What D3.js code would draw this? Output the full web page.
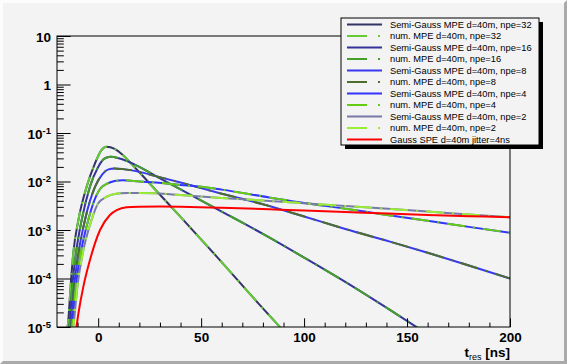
<!DOCTYPE html>
<html>
<head>
<meta charset="utf-8">
<script src="https://cdn.jsdelivr.net/npm/d3@7"></script>
<style>
  body { margin: 0; background: #f3f3f3; }
  svg { display: block; font-family: "Liberation Sans", Arial, Helvetica, sans-serif; }
</style>
</head>
<body>
<svg id="chart" width="567" height="364"></svg>
<script>
// values (t_res in ns, density per ns)
// semi-Gauss and numerical MPE coincide, so each npe uses one set of points
var t32 = [-15.5, -14.5, -13.4, -12.1, -9.6, -5.6, -1.5, 1.5, 4, 8, 12, 16, 20, 28, 40, 58, 78, 90];
var v32 = [6.3e-6, 1.38e-5, 6.8e-5, 3.3e-4, 1.62e-3, 7.8e-3, 2.4e-2, 4.4e-2, 5.2e-2, 4.7e-2, 3.5e-2, 2.34e-2, 1.55e-2, 6.6e-3, 1.86e-3, 2.7e-4, 3.0e-5, 8.3e-6];

var t16 = [-14.5, -13.7, -12.6, -10.8, -8.0, -4.0, 0, 3, 6, 10, 14, 20, 28, 40, 60, 80, 100, 120, 140, 160];
var v16 = [6.3e-6, 1.38e-5, 6.8e-5, 3.3e-4, 1.62e-3, 7.8e-3, 2.0e-2, 2.95e-2, 3.24e-2, 3.02e-2, 2.63e-2, 2.0e-2, 1.29e-2, 6.9e-3, 2.4e-3, 8.3e-4, 2.7e-4, 8.5e-5, 2.5e-5, 7.1e-6];

var t8 = [-13.7, -12.9, -11.7, -9.6, -6.4, -1.5, 2, 5, 8, 12, 20, 28, 40, 60, 80, 100, 120, 141.7, 160, 180, 200];
var v8 = [6.3e-6, 1.38e-5, 6.8e-5, 3.3e-4, 1.62e-3, 7.8e-3, 1.41e-2, 1.78e-2, 1.86e-2, 1.8e-2, 1.58e-2, 1.29e-2, 9.5e-3, 5.6e-3, 3.4e-3, 1.9e-3, 1.05e-3, 5.75e-4, 3.4e-4, 1.86e-4, 1.0e-4];

var t4 = [-13.2, -12.4, -10.9, -8.5, -4.8, -2.4, 1, 4.1, 8, 12, 20, 28, 40, 50, 60, 83, 100, 120, 137, 160, 180, 200];
var v4 = [6.3e-6, 1.38e-5, 6.8e-5, 3.3e-4, 1.62e-3, 3.55e-3, 7.1e-3, 8.9e-3, 1.02e-2, 1.06e-2, 1.0e-2, 9.5e-3, 8.5e-3, 7.8e-3, 6.8e-3, 4.7e-3, 3.6e-3, 2.75e-3, 2.14e-3, 1.55e-3, 1.16e-3, 8.8e-4];

var t2 = [-12.5, -11.7, -10.1, -7.5, -3.2, 0, 4, 8, 14, 20, 28, 40, 60, 83, 100, 120, 137, 160, 180, 200];
var v2 = [6.3e-6, 1.38e-5, 6.8e-5, 3.3e-4, 1.62e-3, 3.55e-3, 4.8e-3, 5.5e-3, 5.8e-3, 5.82e-3, 5.7e-3, 5.25e-3, 4.57e-3, 3.98e-3, 3.55e-3, 3.13e-3, 2.8e-3, 2.4e-3, 2.09e-3, 1.83e-3];

var tSpe = [-11.2, -9.6, -7.2, -4, 0.9, 5.7, 9, 13.8, 20, 30, 40, 60, 83, 100, 120, 137, 160, 180, 200];
var vSpe = [6.3e-6, 1.9e-5, 6.8e-5, 2.4e-4, 1.0e-3, 2.04e-3, 2.57e-3, 2.95e-3, 3.02e-3, 3.05e-3, 3.02e-3, 2.88e-3, 2.67e-3, 2.51e-3, 2.34e-3, 2.21e-3, 2.04e-3, 1.93e-3, 1.83e-3];

var legendLabels = [
  "Semi-Gauss MPE d=40m, npe=32", "num. MPE d=40m, npe=32",
  "Semi-Gauss MPE d=40m, npe=16", "num. MPE d=40m, npe=16",
  "Semi-Gauss MPE d=40m, npe=8", "num. MPE d=40m, npe=8",
  "Semi-Gauss MPE d=40m, npe=4", "num. MPE d=40m, npe=4",
  "Semi-Gauss MPE d=40m, npe=2", "num. MPE d=40m, npe=2",
  "Gauss SPE d=40m jitter=4ns"
];
var xMajorTicks = [0, 50, 100, 150, 200];
var xMinorTicks = [-10, 10, 20, 30, 40, 60, 70, 80, 90, 110, 120, 130, 140, 160, 170, 180, 190];
var yMajorTicks = [1e-5, 1e-4, 1e-3, 1e-2, 1e-1, 1, 10];

// drawing order follows the legend; num curves are dashed on top of the semi ones
var curves = [
  {t: t32, v: v32, color: "#333366", dash: null},
  {t: t32, v: v32, color: "#66cc33", dash: "18,8,2,8"},
  {t: t16, v: v16, color: "#333399", dash: null},
  {t: t16, v: v16, color: "#44a02a", dash: "18,8,2,8"},
  {t: t8,  v: v8,  color: "#3838f0", dash: null},
  {t: t8,  v: v8,  color: "#4d6e2c", dash: "18,8,2,8"},
  {t: t4,  v: v4,  color: "#3333ff", dash: null},
  {t: t4,  v: v4,  color: "#66cc11", dash: "18,8,2,8"},
  {t: t2,  v: v2,  color: "#7878aa", dash: null},
  {t: t2,  v: v2,  color: "#99ee33", dash: "18,8,2,8"},
  {t: tSpe, v: vSpe, color: "#ff0000", dash: null}
];

var W = 567, H = 364;
var frame = {left: 57, right: 510, top: 36, bottom: 327};

var svg = d3.select("#chart");

// canvas with ROOT-like raised border
svg.append("rect").attr("width", W).attr("height", H).attr("fill", "#f3f3f3");
svg.append("path").attr("d", `M0,${H} L0,0 L${W},0 L${W-3},3 L3,3 L3,${H-3} Z`).attr("fill", "#fcfcfc");
svg.append("path").attr("d", `M${W},0 L${W},${H} L0,${H} L3,${H-3} L${W-3},${H-3} L${W-3},3 Z`).attr("fill", "#aaaaaa");

var x = d3.scaleLinear().domain([-20, 200]).range([frame.left, frame.right]);
var y = d3.scaleLog().domain([1e-5, 10]).range([frame.bottom, frame.top]);

svg.append("defs").append("clipPath").attr("id", "plotclip")
  .append("rect")
  .attr("x", frame.left).attr("y", frame.top)
  .attr("width", frame.right - frame.left).attr("height", frame.bottom - frame.top);

// curves
var line = d3.line()
  .x(d => x(d[0]))
  .y(d => y(d[1]))
  .curve(d3.curveMonotoneX);

var curveGroup = svg.append("g").attr("clip-path", "url(#plotclip)");
curves.forEach(function(c) {
  var pts = c.t.map((t, i) => [t, c.v[i]]);
  curveGroup.append("path")
    .attr("d", line(pts))
    .attr("fill", "none")
    .attr("stroke", c.color)
    .attr("stroke-width", 2)
    .attr("stroke-dasharray", c.dash);
});

// frame
svg.append("rect")
  .attr("x", frame.left).attr("y", frame.top)
  .attr("width", frame.right - frame.left).attr("height", frame.bottom - frame.top)
  .attr("fill", "none").attr("stroke", "#000").attr("stroke-width", 1);

// x axis: ticks point inward
var xMinor = svg.append("g")
  .attr("transform", `translate(0, ${frame.bottom})`)
  .call(d3.axisBottom(x).tickValues(xMinorTicks).tickSizeInner(-4.4).tickSizeOuter(0).tickFormat(""));
var xMajor = svg.append("g")
  .attr("transform", `translate(0, ${frame.bottom})`)
  .call(d3.axisBottom(x).tickValues(xMajorTicks).tickSizeInner(-8.7).tickSizeOuter(0).tickPadding(5).tickFormat(d3.format("d")));

// y axis: log, decades labelled as powers of ten
var yMinorVals = [];
for (var e = -5; e < 1; e++) {
  for (var m = 2; m <= 9; m++) yMinorVals.push(m * Math.pow(10, e));
}
var yMinor = svg.append("g")
  .attr("transform", `translate(${frame.left}, 0)`)
  .call(d3.axisLeft(y).tickValues(yMinorVals).tickSizeInner(-6.8).tickSizeOuter(0).tickFormat(""));
var yMajor = svg.append("g")
  .attr("transform", `translate(${frame.left}, 0)`)
  .call(d3.axisLeft(y).tickValues(yMajorTicks).tickSizeInner(-13.6).tickSizeOuter(0).tickPadding(6).tickFormat(""));

[xMinor, xMajor, yMinor, yMajor].forEach(function(g) {
  g.select(".domain").remove();
  g.selectAll(".tick line").attr("stroke", "#000");
});

xMajor.selectAll(".tick text")
  .attr("fill", "#000")
  .attr("font-size", "13.5px")
  .attr("font-weight", "bold")
  .attr("font-family", "'Liberation Sans', Arial, sans-serif");

yMajor.selectAll(".tick").each(function(d) {
  var ex = Math.round(Math.log10(d));
  var txt = d3.select(this).append("text")
    .attr("x", -6).attr("dy", "0.38em")
    .attr("text-anchor", "end")
    .attr("fill", "#000")
    .attr("font-size", "13.5px")
    .attr("font-weight", "bold");
  if (ex === 0) {
    txt.text("1");
  } else if (ex === 1) {
    txt.text("10");
  } else {
    txt.append("tspan").text("10");
    txt.append("tspan").attr("font-size", "9.5px").attr("dy", "-0.5em").text(String(ex));
  }
});

// axis title
var xTitle = svg.append("text")
  .attr("x", frame.right).attr("y", 357)
  .attr("text-anchor", "end")
  .attr("font-size", "13.5px")
  .attr("font-weight", "bold");
xTitle.append("tspan").text("t");
xTitle.append("tspan").attr("font-size", "9px").attr("font-weight", "normal").attr("dy", "3").text("res");
xTitle.append("tspan").attr("dy", "-3").text(" [ns]");

// legend
var lg = {x: 341, y: 18, w: 198, h: 127};
svg.append("rect")
  .attr("x", lg.x + 4).attr("y", lg.y + 4).attr("width", lg.w).attr("height", lg.h)
  .attr("fill", "#000");
svg.append("rect")
  .attr("x", lg.x).attr("y", lg.y).attr("width", lg.w).attr("height", lg.h)
  .attr("fill", "#f3f3f3").attr("stroke", "#000").attr("stroke-width", 1);

var rowY = d3.scaleLinear().domain([0, legendLabels.length - 1]).range([lg.y + 6.5, lg.y + 121.5]);
legendLabels.forEach(function(label, i) {
  var c = curves[i];
  var yy = rowY(i);
  svg.append("line")
    .attr("x1", lg.x + 6).attr("x2", lg.x + 41)
    .attr("y1", yy).attr("y2", yy)
    .attr("stroke", c.color).attr("stroke-width", 2)
    .attr("stroke-dasharray", c.dash ? "20,11,2,11" : null);
  svg.append("text")
    .attr("x", lg.x + 49).attr("y", yy).attr("dy", "0.35em")
    .attr("font-size", "9.3px")
    .attr("fill", "#000")
    .text(label);
});
</script>
</body>
</html>
